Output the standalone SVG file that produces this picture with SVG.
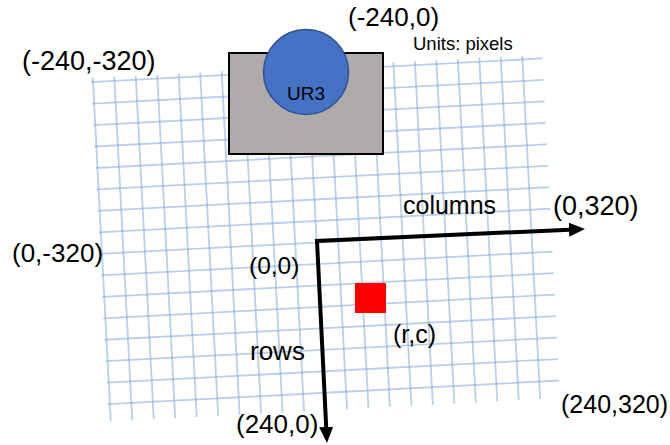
<svg xmlns="http://www.w3.org/2000/svg" width="670" height="445" viewBox="0 0 670 445">
<defs>
<style>
.lbl{font-family:"Liberation Sans",Arial,sans-serif;font-size:26px;fill:#000}
.small{font-size:18.5px}
.grid{fill:none;stroke:#7fa8d8;stroke-width:1.8;stroke-opacity:0.55}
.axis{fill:none;stroke:#000;stroke-width:4;stroke-linejoin:miter}
</style>
<marker id="arr" markerUnits="userSpaceOnUse" markerWidth="16" markerHeight="14" refX="6" refY="7" orient="auto-start-reverse">
<path d="M0,0 L16,7 L0,14 z" fill="#000"/>
</marker>
</defs>
<rect width="670" height="445" fill="#fff"/>
<g id="grid" transform="translate(93,82) rotate(-3)">
<path class="grid" d="M-2,0H450M-2,21.5H450M-2,43H450M-2,64.5H450M-2,86H450M-2,107.5H450M-2,129H450M-2,150.5H450M-2,172H450M-2,193.5H450M-2,215H450M-2,236.5H450M-2,258H450M-2,279.5H450M-2,301H450M-2,322.5H450"/>
<path class="grid" d="M0,-4V340M21.5,-4V340M43,-4V340M64.5,-4V340M86,-4V340M107.5,-4V340M129,-4V340M150.5,-4V340M172,-4V340M193.5,-4V340M215,-4V340M236.5,-4V340M258,-4V340M279.5,-4V340M301,-4V340M322.5,-4V340M344,-4V340M365.5,-4V340M387,-4V340M408.5,-4V340M430,-4V340"/>
</g>
<g id="robot">
<rect x="229" y="53" width="154" height="101" fill="#afabab" stroke="#000" stroke-width="2"/>
<circle cx="306" cy="72" r="42.5" fill="#4472c4" stroke="#2f528f" stroke-width="1.5"/>
<text class="lbl" x="306" y="100" text-anchor="middle" style="font-size:19px">UR3</text>
</g>
<g id="connectors">
<path class="axis" d="M326.5,433 L317,241 L575,229.45" marker-start="url(#arr)" marker-end="url(#arr)"/>
</g>
<g id="target">
<rect x="355" y="283" width="31" height="30" fill="#ff0000"/>
</g>
<g id="labels">
<text class="lbl" x="22" y="70" style="font-size:27px">(-240,-320)</text>
<text class="lbl" x="348" y="26">(-240,0)</text>
<text class="lbl small" x="413" y="50">Units: pixels</text>
<text class="lbl" x="403" y="214" style="font-size:25px">columns</text>
<text class="lbl" x="553" y="215" style="font-size:27px">(0,320)</text>
<text class="lbl" x="12" y="262">(0,-320)</text>
<text class="lbl" x="249" y="274" style="font-size:24.5px">(0,0)</text>
<text class="lbl" x="250" y="360">rows</text>
<text class="lbl" x="393" y="343" style="font-size:25px">(r,c)</text>
<text class="lbl" x="236" y="433">(240,0)</text>
<text class="lbl" x="561" y="413" style="font-size:25px">(240,320)</text>
</g>
</svg>
